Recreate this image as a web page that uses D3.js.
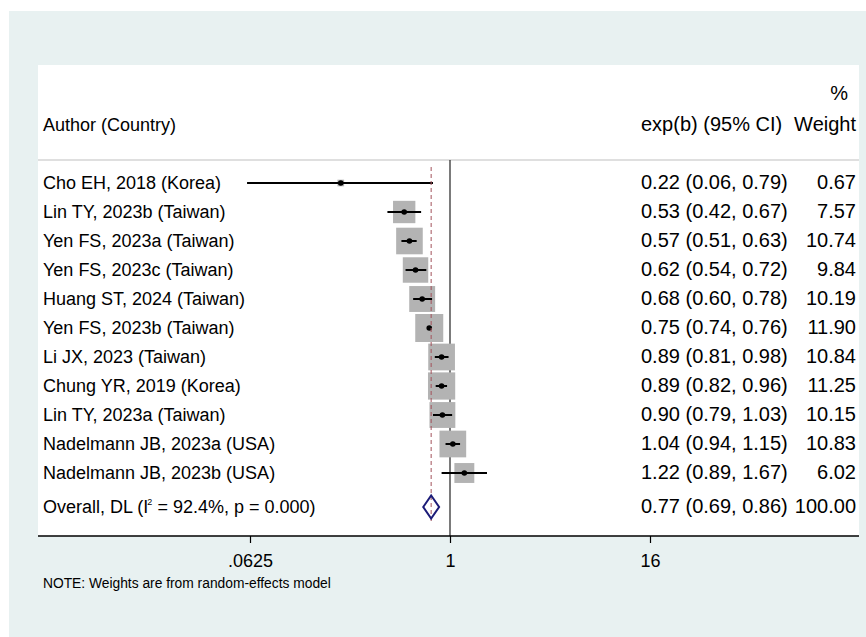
<!DOCTYPE html>
<html>
<head>
<meta charset="utf-8">
<script src="https://cdn.jsdelivr.net/npm/d3@7/dist/d3.min.js"></script>
<style>
  html, body { margin: 0; padding: 0; background: #ffffff; }
  svg text { font-family: "Liberation Sans", Arial, sans-serif; fill: #000; }
</style>
</head>
<body>
<svg id="chart" width="866" height="637"></svg>
<script>
// Study-level estimates (exp(b) with 95% CI) and random-effects weights
const studies = [
  "Cho EH, 2018 (Korea)",
  "Lin TY, 2023b (Taiwan)",
  "Yen FS, 2023a (Taiwan)",
  "Yen FS, 2023c (Taiwan)",
  "Huang ST, 2024 (Taiwan)",
  "Yen FS, 2023b (Taiwan)",
  "Li JX, 2023 (Taiwan)",
  "Chung YR, 2019 (Korea)",
  "Lin TY, 2023a (Taiwan)",
  "Nadelmann JB, 2023a (USA)",
  "Nadelmann JB, 2023b (USA)"
];
const estimates = [0.22, 0.53, 0.57, 0.62, 0.68, 0.75, 0.89, 0.89, 0.90, 1.04, 1.22];
const lowerCI   = [0.06, 0.42, 0.51, 0.54, 0.60, 0.74, 0.81, 0.82, 0.79, 0.94, 0.89];
const upperCI   = [0.79, 0.67, 0.63, 0.72, 0.78, 0.76, 0.98, 0.96, 1.03, 1.15, 1.67];
const weights   = [0.67, 7.57, 10.74, 9.84, 10.19, 11.90, 10.84, 11.25, 10.15, 10.83, 6.02];

// Pooled DerSimonian-Laird estimate
const overallLabel = "Overall, DL (I";
const overallStats = " = 92.4%, p = 0.000)";
const overall = { est: 0.77, lo: 0.69, hi: 0.86, weight: 100.00 };

const axisTicks = [0.0625, 1, 16];
const tickLabels = [".0625", "1", "16"];

const W = 866, H = 637;
const svg = d3.select("#chart");
const fmt = d3.format(".2f");

// Graph region and plot region
svg.append("rect").attr("x", 9).attr("y", 11).attr("width", W - 9).attr("height", H - 11)
  .attr("fill", "#e8f1f1");
const plotLeft = 38, plotRight = 859, plotTop = 65, axisY = 536;
svg.append("rect").attr("x", plotLeft).attr("y", plotTop)
  .attr("width", plotRight - plotLeft).attr("height", axisY - plotTop).attr("fill", "#ffffff");

// Scales
const x = d3.scaleLog().base(2).domain([0.0625, 16]).range([250, 650]);
const rowY = d3.scaleLinear().domain([0, 1]).range([183, 212]);
const overallY = 507;
const boxSide = d3.scaleSqrt().domain([0, 11.90]).range([0, 28]);

const fs = 18, fsR = 20;
const textX = 43, ciX = 641, wX = 856;

// Header
svg.append("text").attr("x", 848).attr("y", 100).attr("text-anchor", "end")
  .attr("font-size", fsR).text("%");
svg.append("text").attr("x", textX).attr("y", 131).attr("font-size", fs).text("Author (Country)");
svg.append("text").attr("x", ciX).attr("y", 131).attr("font-size", fsR).text("exp(b) (95% CI)");
svg.append("text").attr("x", wX).attr("y", 131).attr("text-anchor", "end")
  .attr("font-size", fsR).text("Weight");
svg.append("line").attr("x1", plotLeft).attr("x2", plotRight).attr("y1", 160).attr("y2", 160)
  .attr("stroke", "#d4d4d4").attr("stroke-width", 1.5);

// Null line at 1
svg.append("line").attr("x1", x(1)).attr("x2", x(1)).attr("y1", 160).attr("y2", axisY)
  .attr("stroke", "#222").attr("stroke-width", 1.2);

// Weight boxes
const data = studies.map((s, i) => ({
  name: s, est: estimates[i], lo: lowerCI[i], hi: upperCI[i], w: weights[i], i
}));
const rows = svg.append("g");
rows.selectAll("rect.box").data(data).join("rect")
  .attr("class", "box")
  .attr("x", d => x(d.est) - boxSide(d.w) / 2)
  .attr("y", d => rowY(d.i) - boxSide(d.w) / 2)
  .attr("width", d => boxSide(d.w))
  .attr("height", d => boxSide(d.w))
  .attr("fill", "#b3b3b3");

// Pooled estimate reference line
svg.append("line").attr("x1", x(overall.est)).attr("x2", x(overall.est))
  .attr("y1", 167).attr("y2", 521)
  .attr("stroke", "#a2525a").attr("stroke-width", 1).attr("stroke-dasharray", "4,3");

// Confidence intervals and point estimates
rows.selectAll("line.ci").data(data).join("line")
  .attr("class", "ci")
  .attr("x1", d => x(d.lo)).attr("x2", d => x(d.hi))
  .attr("y1", d => rowY(d.i)).attr("y2", d => rowY(d.i))
  .attr("stroke", "#000").attr("stroke-width", 2);
rows.selectAll("circle.pt").data(data).join("circle")
  .attr("class", "pt")
  .attr("cx", d => x(d.est)).attr("cy", d => rowY(d.i)).attr("r", 2.8)
  .attr("fill", "#000");

// Row labels and values
rows.selectAll("text.lbl").data(data).join("text")
  .attr("class", "lbl").attr("x", textX).attr("y", d => rowY(d.i) + 6)
  .attr("font-size", fs).text(d => d.name);
rows.selectAll("text.ci").data(data).join("text")
  .attr("class", "ci").attr("x", ciX).attr("y", d => rowY(d.i) + 6)
  .attr("font-size", fsR).text(d => `${fmt(d.est)} (${fmt(d.lo)}, ${fmt(d.hi)})`);
rows.selectAll("text.w").data(data).join("text")
  .attr("class", "w").attr("x", wX).attr("y", d => rowY(d.i) + 6)
  .attr("text-anchor", "end").attr("font-size", fsR).text(d => fmt(d.w));

// Overall diamond
const dh = 11.5;
svg.append("path")
  .attr("d", `M${x(overall.lo)},${overallY}L${x(overall.est)},${overallY - dh}L${x(overall.hi)},${overallY}L${x(overall.est)},${overallY + dh}Z`)
  .attr("fill", "none").attr("stroke", "#1c1c78").attr("stroke-width", 2);

const ot = svg.append("text").attr("x", textX).attr("y", overallY + 6).attr("font-size", fs);
ot.append("tspan").text(overallLabel);
ot.append("tspan").attr("font-size", 9).attr("dy", -8).attr("dx", -1).text("2");
ot.append("tspan").attr("dy", 8).text(overallStats);
svg.append("text").attr("x", ciX).attr("y", overallY + 6).attr("font-size", fsR)
  .text(`${fmt(overall.est)} (${fmt(overall.lo)}, ${fmt(overall.hi)})`);
svg.append("text").attr("x", wX).attr("y", overallY + 6).attr("text-anchor", "end")
  .attr("font-size", fsR).text(fmt(overall.weight));

// Axis
const axis = d3.axisBottom(x).tickValues(axisTicks)
  .tickFormat((d, i) => tickLabels[i]).tickSize(7).tickPadding(11);
const ag = svg.append("g").attr("transform", `translate(0,${axisY})`).call(axis);
ag.select(".domain").remove();
ag.selectAll(".tick line").attr("stroke", "#000").attr("stroke-width", 1.2);
ag.selectAll(".tick text").attr("font-size", fs).attr("font-family", "Liberation Sans, Arial, sans-serif").attr("fill", "#000");
svg.append("line").attr("x1", plotLeft).attr("x2", plotRight).attr("y1", axisY).attr("y2", axisY)
  .attr("stroke", "#000").attr("stroke-width", 1.3);

svg.append("text").attr("x", textX).attr("y", 588).attr("font-size", 13.8)
  .text("NOTE: Weights are from random-effects model");
</script>
</body>
</html>
